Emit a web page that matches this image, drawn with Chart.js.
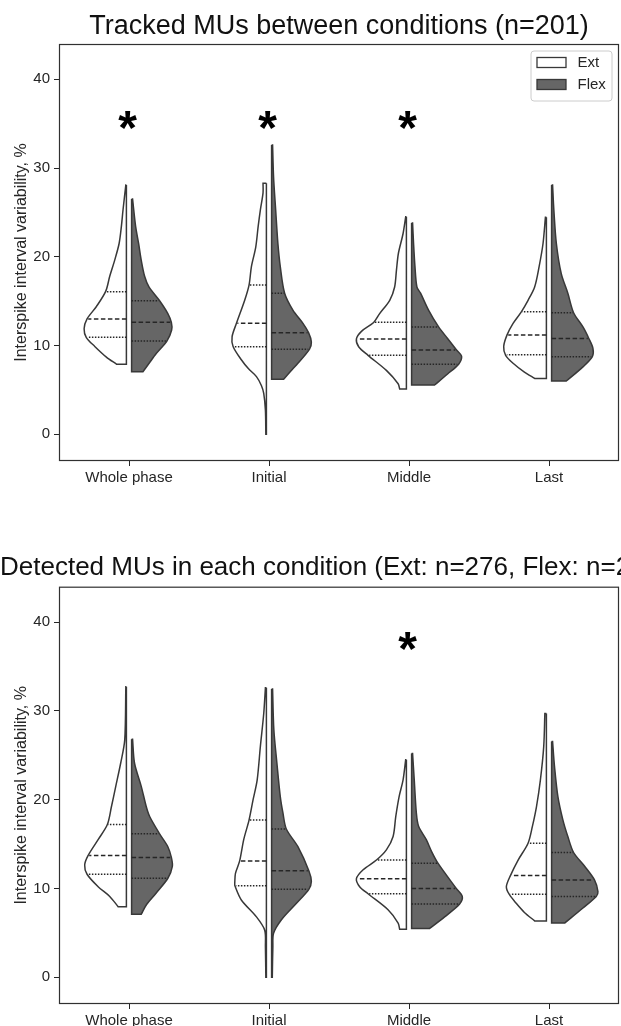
<!DOCTYPE html>
<html>
<head>
<meta charset="utf-8">
<script src="https://cdn.jsdelivr.net/npm/chart.js@4.4.0/dist/chart.umd.min.js"></script>
<style>
html,body{margin:0;padding:0;background:#ffffff;overflow:hidden;width:621px;height:1026px;}
.box{position:absolute;left:0;height:513px;}
#b1{top:0;width:621px;} #b2{top:513px;width:682px;}
</style>
</head>
<body>
<div class="box" id="b1"><canvas id="c1"></canvas></div>
<div class="box" id="b2"><canvas id="c2"></canvas></div>
<script>
// ---------------- DATA ----------------
const categories = ['Whole phase', 'Initial', 'Middle', 'Last'];
const conditions = ['Ext', 'Flex'];
const yTickValues = [0, 10, 20, 30, 40];

// Violin half outlines: [value %, half-width in category units], top -> bottom
// Panel 1: Tracked MUs between conditions (n=201)
const trackedExtWhole   = [[28.1,0.004],[25.3,0.024],[23.4,0.036],[21.5,0.052],[19.6,0.084],[17.8,0.119],[16.1,0.148],[14.4,0.214],[13.0,0.281],[11.9,0.302],[10.9,0.286],[9.9,0.226],[8.7,0.143],[7.9,0.071]];
const trackedExtInitial = [[28.3,0.024],[27.2,0.024],[25.3,0.043],[23.4,0.059],[21.1,0.076],[18.9,0.107],[16.8,0.124],[15.1,0.155],[12.5,0.214],[11.0,0.245],[9.9,0.238],[8.4,0.179],[7.4,0.129],[6.5,0.071],[5.5,0.036],[4.6,0.019],[2.7,0.007],[0.0,0.004]];
const trackedExtMiddle  = [[24.5,0.005],[22.6,0.024],[20.4,0.057],[18.5,0.071],[16.6,0.084],[15.1,0.119],[13.6,0.191],[12.6,0.234],[11.6,0.321],[10.74,0.357],[9.87,0.341],[8.9,0.274],[7.2,0.143],[5.7,0.059],[5.1,0.048]];
const trackedExtLast    = [[24.45,0.007],[21.5,0.024],[18.9,0.052],[16.6,0.084],[15.1,0.131],[13.8,0.179],[12.5,0.238],[11.2,0.281],[9.9,0.305],[8.9,0.291],[8.0,0.238],[7.0,0.157],[6.3,0.084]];
const trackedFlexWhole   = [[26.5,0.007],[23.4,0.029],[21.5,0.050],[19.6,0.069],[17.8,0.093],[16.6,0.124],[15.05,0.200],[13.6,0.259],[12.6,0.284],[11.75,0.286],[10.5,0.252],[9.1,0.176],[8.0,0.125],[7.05,0.081]];
const trackedFlexInitial = [[32.6,0.007],[29.0,0.014],[25.3,0.029],[21.5,0.045],[18.9,0.062],[15.9,0.093],[14.0,0.152],[12.5,0.224],[11.45,0.264],[10.4,0.284],[9.6,0.271],[8.0,0.188],[7.1,0.136],[6.2,0.086]];
const trackedFlexMiddle  = [[23.8,0.007],[21.5,0.014],[18.9,0.024],[16.6,0.038],[15.9,0.064],[14.0,0.121],[12.1,0.193],[10.8,0.257],[9.5,0.321],[8.8,0.357],[7.9,0.336],[6.8,0.257],[5.55,0.164]];
const trackedFlexLast    = [[28.1,0.007],[25.3,0.016],[21.5,0.034],[18.1,0.069],[15.9,0.116],[13.7,0.157],[12.1,0.224],[10.8,0.266],[9.7,0.295],[8.75,0.291],[7.6,0.224],[6.0,0.105]];
// quartiles per category: [Q1, median, Q3]
const trackedExtQuartiles  = [[10.93,12.99,16.07],[9.87,12.5,16.82],[8.9,10.74,12.62],[8.95,11.2,13.8]];
const trackedFlexQuartiles = [[10.51,12.62,15.05],[9.58,11.45,15.9],[7.9,9.5,12.1],[8.75,10.8,13.7]];
const trackedSignificant   = [true, true, true, false];

// Panel 2: Detected MUs in each condition
const detectedExtWhole   = [[32.7,0.004],[26.7,0.012],[24.1,0.041],[21.5,0.076],[19.2,0.107],[17.2,0.136],[15.5,0.202],[13.7,0.274],[12.65,0.298],[11.6,0.281],[10.2,0.202],[9.1,0.119],[7.95,0.059]];
const detectedExtInitial = [[32.6,0.007],[29.7,0.019],[26.0,0.043],[22.2,0.066],[20.0,0.095],[17.7,0.124],[15.5,0.162],[13.1,0.191],[11.7,0.221],[10.6,0.226],[10.3,0.225],[8.7,0.179],[6.8,0.071],[5.3,0.012],[3.45,0.007],[0.0,0.004]];
const detectedExtMiddle  = [[24.5,0.005],[22.2,0.024],[20.35,0.052],[18.1,0.076],[15.85,0.095],[14.35,0.143],[13.2,0.214],[12.1,0.309],[11.1,0.357],[10.2,0.334],[9.4,0.274],[7.6,0.131],[6.1,0.059],[5.4,0.048]];
const detectedExtLast    = [[29.7,0.011],[26.0,0.019],[22.2,0.043],[19.2,0.071],[17.0,0.100],[15.1,0.131],[13.2,0.202],[11.45,0.257],[10.2,0.286],[9.35,0.266],[8.3,0.214],[7.3,0.157],[6.35,0.084]];
const detectedFlexWhole   = [[26.8,0.007],[24.1,0.021],[21.5,0.069],[19.2,0.105],[18.1,0.129],[16.15,0.200],[14.7,0.259],[13.5,0.284],[12.5,0.291],[11.15,0.259],[9.5,0.176],[8.2,0.107],[7.1,0.069]];
const detectedFlexInitial = [[32.45,0.007],[27.9,0.016],[24.1,0.038],[20.35,0.062],[18.5,0.081],[16.7,0.105],[14.7,0.188],[12.0,0.266],[10.8,0.284],[9.9,0.266],[8.3,0.176],[6.45,0.069],[4.95,0.014],[3.45,0.009],[0.0,0.005]];
const detectedFlexMiddle  = [[25.2,0.007],[22.2,0.019],[18.5,0.034],[17.0,0.050],[15.5,0.105],[14.15,0.143],[12.85,0.188],[10.0,0.319],[9.1,0.362],[8.25,0.343],[6.8,0.236],[5.5,0.129]];
const detectedFlexLast    = [[26.55,0.007],[23.7,0.021],[20.35,0.045],[17.7,0.081],[15.85,0.116],[14.05,0.157],[12.5,0.236],[10.95,0.307],[9.65,0.331],[9.1,0.319],[7.8,0.224],[6.1,0.093]];
const detectedExtQuartiles  = [[11.6,13.7,17.2],[10.3,13.1,17.7],[9.4,11.1,13.2],[9.35,11.45,15.1]];
const detectedFlexQuartiles = [[11.15,13.5,16.15],[9.9,12.0,16.7],[8.25,10.0,12.85],[9.1,10.95,14.05]];
const detectedSignificant   = [false, false, true, false];

// ---------------- RENDERING ----------------
const FONT = '"Liberation Sans", Arial, sans-serif';
const INK = '#262626';
const EDGE = '#383838';
const EXT_FILL = '#ffffff';
const FLEX_FILL = '#666666';
const GAP = 0.0186;

function halfPolygon(i, prof, side) {
  const x0 = i + side * GAP;
  const top = prof[0][0], bot = prof[prof.length - 1][0];
  const pts = [{x: x0, y: top}, {x: x0, y: top}];
  prof.forEach(([v, w], k) => {
    const p = {x: x0 + side * w, y: v};
    pts.push(p);
    if (k === 0 || k === prof.length - 1) pts.push({...p});
  });
  pts.push({x: x0, y: bot}, {x: x0, y: bot}, {x: x0, y: top});
  return pts;
}
function widthAt(prof, q) {
  for (let k = 0; k < prof.length - 1; k++) {
    const [v1, w1] = prof[k], [v2, w2] = prof[k + 1];
    if (q <= v1 && q >= v2) return w1 + (w2 - w1) * (v1 - q) / (v1 - v2);
  }
  return 0;
}
function buildDatasets(extProfiles, flexProfiles, extQ, flexQ) {
  const ds = [];
  const sides = [[extProfiles, extQ, -1, EXT_FILL, conditions[0]], [flexProfiles, flexQ, 1, FLEX_FILL, conditions[1]]];
  sides.forEach(([profiles, quarts, side, fill, label]) => {
    profiles.forEach((prof, i) => {
      ds.push({
        label: label + ' – ' + categories[i],
        data: halfPolygon(i, prof, side),
        showLine: true, fill: 'shape', backgroundColor: fill,
        borderColor: EDGE, borderWidth: 1.5, tension: 0.3,
        pointRadius: 0, order: 2
      });
      quarts[i].forEach((q, k) => {
        const x0 = i + side * GAP;
        const w = widthAt(prof, q) * 0.97;
        ds.push({
          label: label + ' quartile',
          data: [{x: x0, y: q}, {x: x0 + side * w, y: q}],
          showLine: true, fill: false, borderColor: '#262626',
          borderWidth: 1.5, borderDash: k === 1 ? [4.5, 2.5] : [1.5, 1.5],
          pointRadius: 0, order: 1
        });
      });
    });
  });
  return ds;
}

const decorPlugin = {
  id: 'decor',
  afterDatasetsDraw(chart, args, opts) {
    const {ctx, scales} = chart;
    ctx.save();
    ctx.fillStyle = '#000';
    ctx.font = 'bold 48px ' + FONT;
    ctx.textAlign = 'center';
    ctx.textBaseline = 'middle';
    opts.significant.forEach((s, i) => {
      if (!s) return;
      const x = scales.x.getPixelForValue(i) - 1.5;
      const y = scales.y.getPixelForValue(opts.starValue) + 0.23 * 48;
      ctx.fillText('*', x, y);
    });
    ctx.restore();
  },
  afterDraw(chart, args, opts) {
    const {ctx, chartArea: a} = chart;
    ctx.save();
    ctx.strokeStyle = '#303030';
    ctx.lineWidth = 1.2;
    ctx.strokeRect(a.left + 0.5, a.top + 0.5, a.right - a.left - 1, a.bottom - a.top - 1);
    if (opts.legend) {
      const w = 81, h = 50;
      const r = a.right - 7.5, t = a.top + 6.5, l = r - w;
      ctx.beginPath();
      ctx.roundRect(l + 0.5, t + 0.5, w, h, 3);
      ctx.fillStyle = 'rgba(255,255,255,0.85)';
      ctx.fill();
      ctx.strokeStyle = '#cccccc';
      ctx.lineWidth = 1;
      ctx.stroke();
      const rows = [[EXT_FILL, conditions[0]], [FLEX_FILL, conditions[1]]];
      ctx.font = '15px ' + FONT;
      ctx.textBaseline = 'middle';
      ctx.textAlign = 'left';
      rows.forEach(([fill, text], k) => {
        const cy = t + 12 + k * 22;
        ctx.fillStyle = fill;
        ctx.fillRect(l + 6.5, cy - 5, 29, 10);
        ctx.strokeStyle = EDGE;
        ctx.lineWidth = 1.3;
        ctx.strokeRect(l + 6.5, cy - 5, 29, 10);
        ctx.fillStyle = INK;
        ctx.fillText(text, l + 47, cy);
      });
    }
    ctx.restore();
  }
};

function makeChart(id, cfg) {
  return new Chart(document.getElementById(id), {
    type: 'scatter',
    data: {datasets: buildDatasets(cfg.ext, cfg.flex, cfg.extQ, cfg.flexQ)},
    plugins: [decorPlugin],
    options: {
      responsive: true, maintainAspectRatio: false, animation: false, devicePixelRatio: 1,
      layout: {padding: {left: 0, right: cfg.padRight, top: 0, bottom: cfg.padBottom}},
      plugins: {
        legend: {display: false},
        tooltip: {enabled: false},
        title: {
          display: true, text: cfg.title, align: cfg.titleAlign, fullSize: cfg.titleFull,
          color: '#111', font: {family: FONT, size: cfg.titleSize, weight: 'normal', lineHeight: 1.2},
          padding: cfg.titlePad
        },
        decor: {significant: cfg.sig, starValue: cfg.starValue, legend: cfg.legend}
      },
      scales: {
        x: {
          type: 'linear', min: -0.5, max: 3.5,
          afterBuildTicks: s => { s.ticks = categories.map((c, i) => ({value: i})); },
          afterFit: s => { s.height = cfg.xHeight; },
          ticks: {callback: v => categories[v], color: INK, font: {family: FONT, size: 15, lineHeight: 1.2}, padding: 3, maxRotation: 0, autoSkip: false},
          grid: {display: true, drawOnChartArea: false, drawTicks: true, tickLength: 5, color: INK, lineWidth: 1},
          border: {display: false}
        },
        y: {
          type: 'linear', min: -3.01, max: 43.98,
          afterBuildTicks: s => { s.ticks = yTickValues.map(v => ({value: v})); },
          afterFit: s => { s.width = 59; },
          ticks: {color: INK, font: {family: FONT, size: 15, lineHeight: 1.2}, padding: 4},
          grid: {display: true, drawOnChartArea: false, drawTicks: true, tickLength: 5, color: INK, lineWidth: 1},
          border: {display: false},
          title: {display: true, text: 'Interspike interval variability, %', color: INK,
                  font: {family: FONT, size: 16, lineHeight: 1.2}, padding: {top: 12.4, bottom: 0}}
        },
        yPad: {
          type: 'linear', position: 'right', display: cfg.rightSpace > 0,
          ticks: {display: false}, grid: {display: false}, border: {display: false},
          afterFit: s => { s.width = cfg.rightSpace; }
        }
      }
    }
  });
}

makeChart('c1', {
  ext: [trackedExtWhole, trackedExtInitial, trackedExtMiddle, trackedExtLast],
  flex: [trackedFlexWhole, trackedFlexInitial, trackedFlexMiddle, trackedFlexLast],
  extQ: trackedExtQuartiles, flexQ: trackedFlexQuartiles,
  sig: trackedSignificant, starValue: 35.4, legend: true,
  title: 'Tracked MUs between conditions (n=201)', titleAlign: 'center', titleFull: false, titleSize: 27,
  titlePad: {top: 10, bottom: 1.6}, xHeight: 24, padBottom: 28, padRight: 2, rightSpace: 0
});
makeChart('c2', {
  ext: [detectedExtWhole, detectedExtInitial, detectedExtMiddle, detectedExtLast],
  flex: [detectedFlexWhole, detectedFlexInitial, detectedFlexMiddle, detectedFlexLast],
  extQ: detectedExtQuartiles, flexQ: detectedFlexQuartiles,
  sig: detectedSignificant, starValue: 37.9, legend: false,
  title: 'Detected MUs in each condition (Ext: n=276, Flex: n=2', titleAlign: 'start', titleFull: true, titleSize: 26,
  titlePad: {top: 39, bottom: 3.5}, xHeight: 22, padBottom: 0, padRight: 0, rightSpace: 63
});
</script>
</body>
</html>
